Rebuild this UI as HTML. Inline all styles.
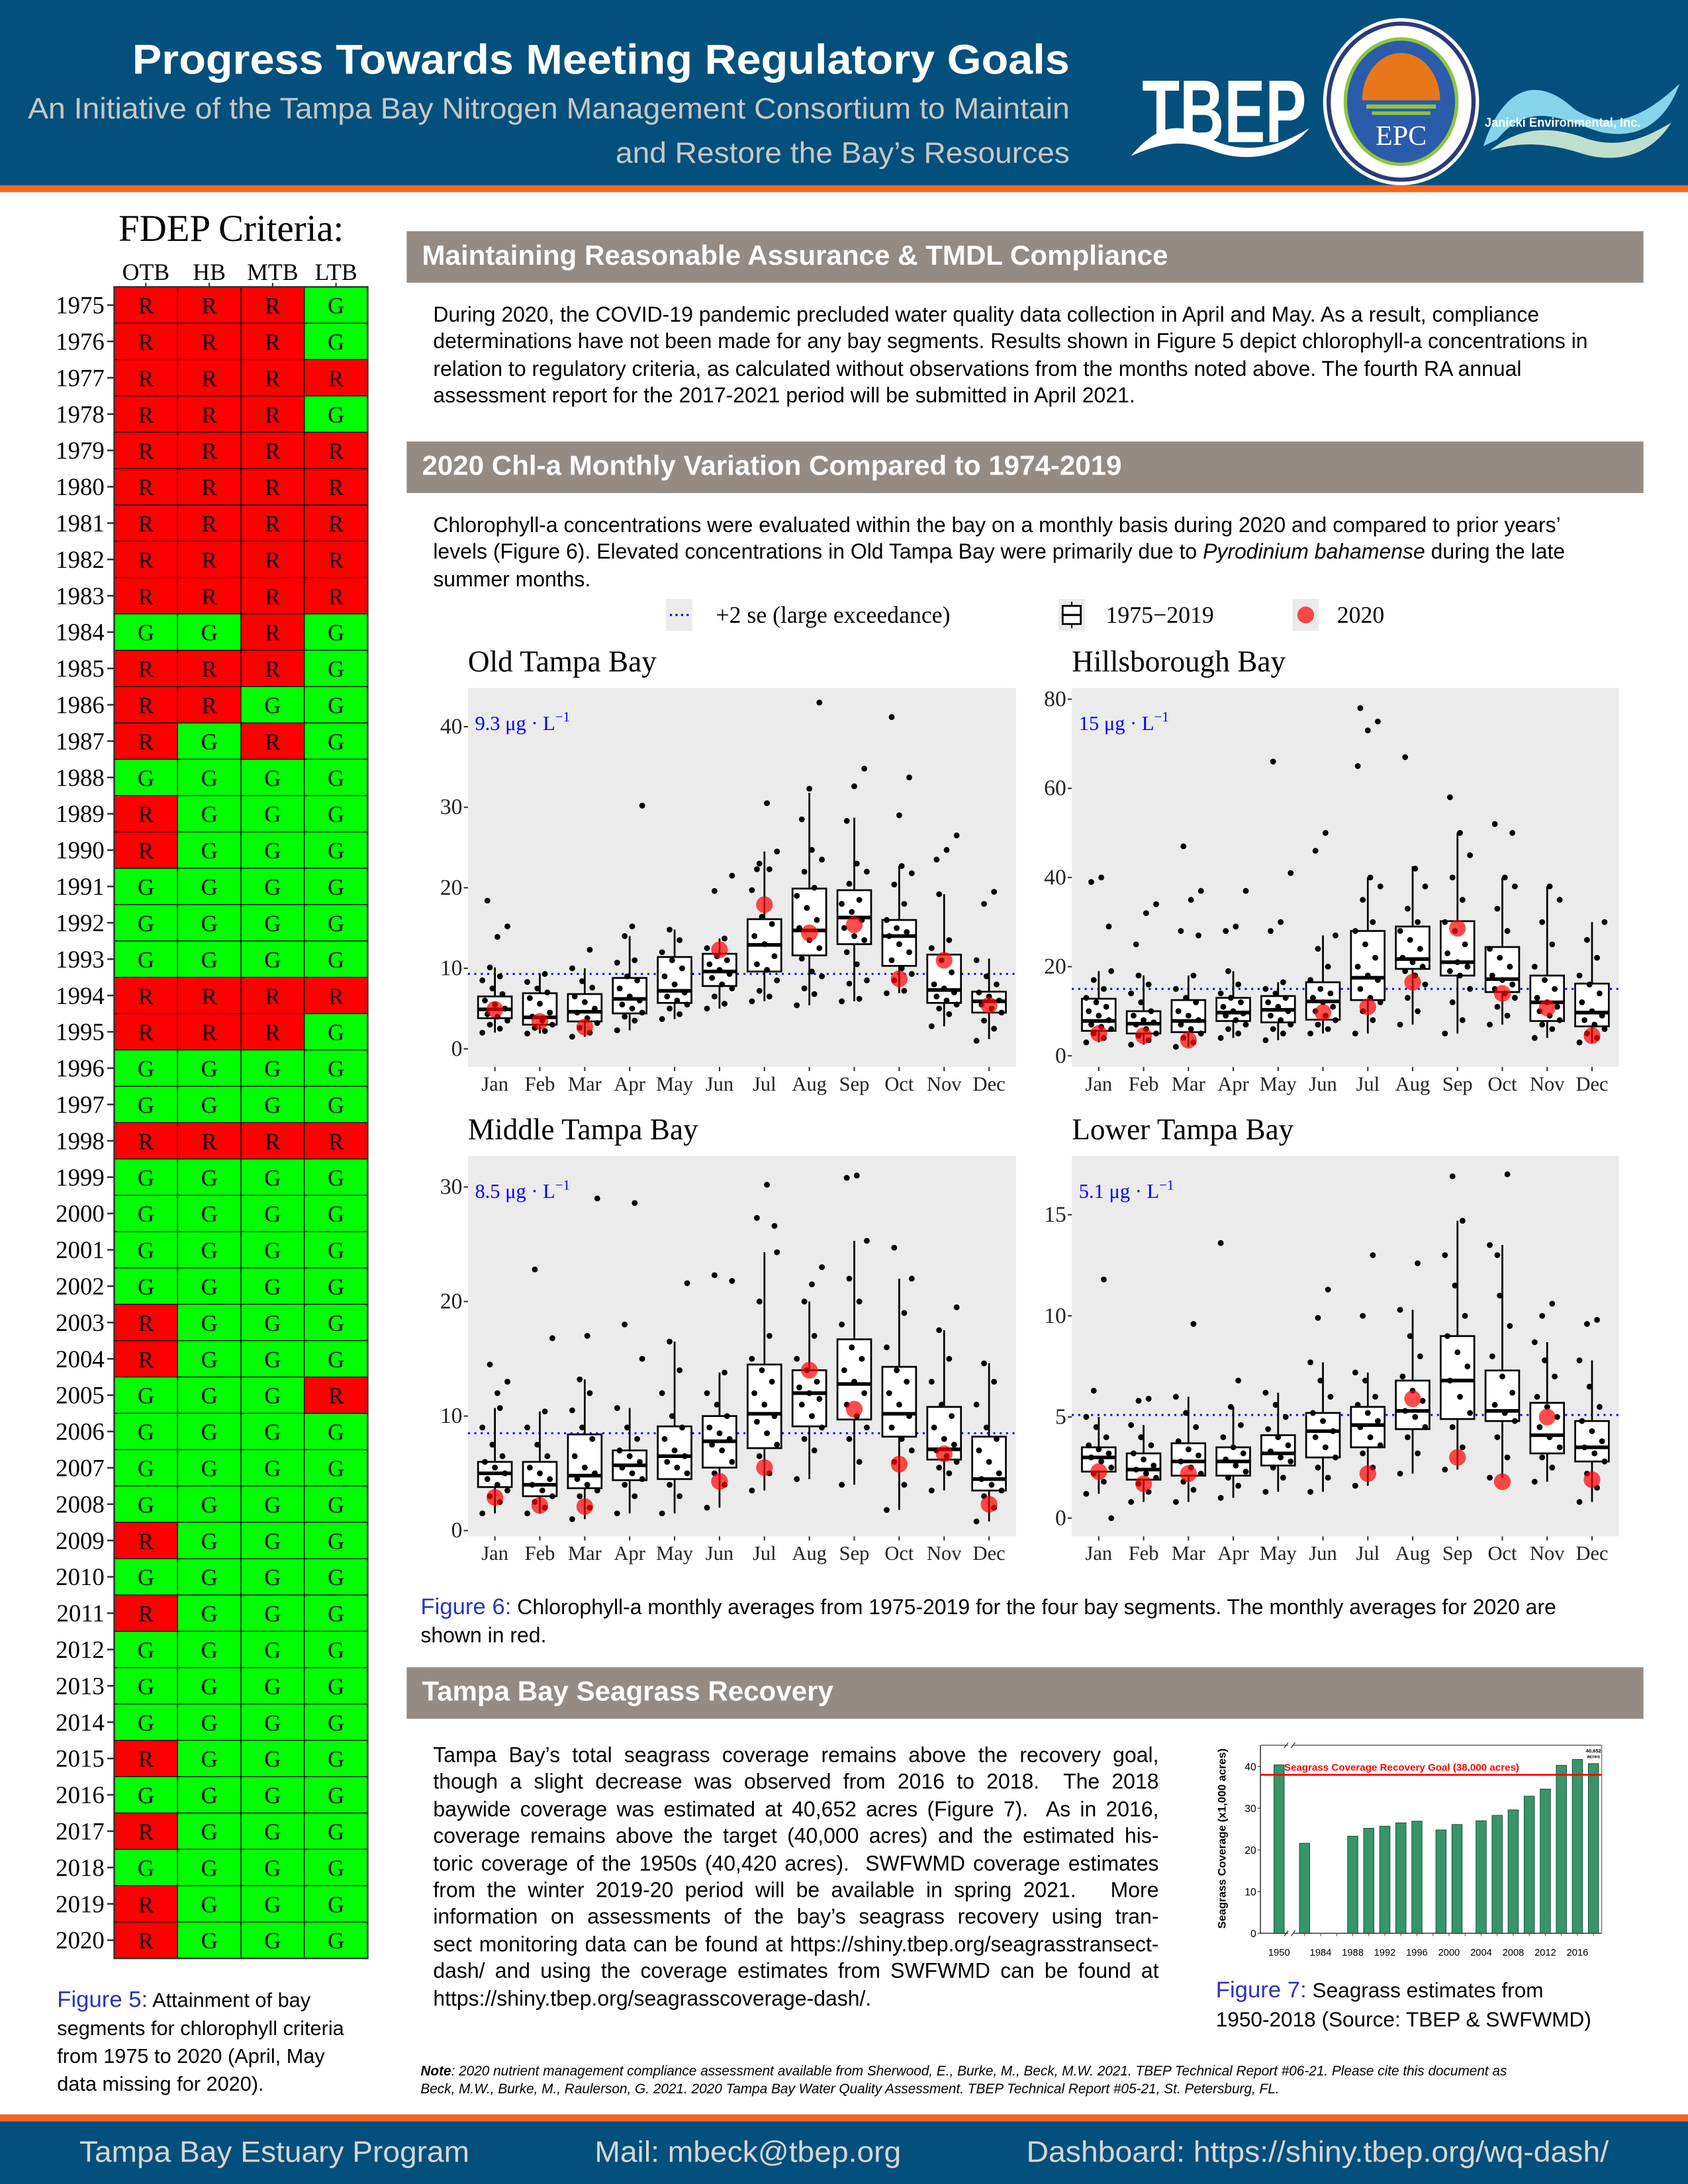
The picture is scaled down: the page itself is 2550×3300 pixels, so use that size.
<!DOCTYPE html>
<html><head><meta charset="utf-8">
<style>
html,body{margin:0;padding:0;width:2550px;height:3300px;overflow:hidden;background:#fff}
#pg{position:absolute;left:0;top:0;width:1212px;height:1568px;transform-origin:0 0;transform:scale(2.10396,2.10459);font-family:"Liberation Sans",sans-serif;color:#000}
.abs{position:absolute;white-space:nowrap}
.p{font-size:15.2px;line-height:19.4px}
.bar{position:absolute;left:292px;width:888px;height:37px;background:#958B85;color:#fff;font-weight:bold;font-size:20px;line-height:37px;padding-left:11px;box-sizing:border-box}
.j{display:block;text-align:justify;text-align-last:justify;width:521px;white-space:nowrap;overflow:visible}
svg text{white-space:pre}
</style></head>
<body>
<div id="pg">
<svg id="main" width="1212" height="1568" viewBox="0 0 1212 1568" style="position:absolute;left:0;top:0">
  <rect x="0" y="0" width="1212" height="134" fill="#03507D"/>
  <rect x="0" y="133" width="1212" height="5" fill="#F26722"/>
  <text x="768" y="53" text-anchor="end" font-family="Liberation Sans" font-weight="bold" font-size="30" fill="#fff" textLength="673" lengthAdjust="spacingAndGlyphs">Progress Towards Meeting Regulatory Goals</text>
  <text x="768" y="85" text-anchor="end" font-family="Liberation Sans" font-size="21" fill="#c8c8c8" textLength="748" lengthAdjust="spacingAndGlyphs">An Initiative of the Tampa Bay Nitrogen Management Consortium to Maintain</text>
  <text x="768" y="117" text-anchor="end" font-family="Liberation Sans" font-size="21" fill="#c8c8c8" textLength="326" lengthAdjust="spacingAndGlyphs">and Restore the Bay’s Resources</text>
  <g>
    <text x="820" y="102" font-family="Liberation Sans" font-weight="bold" font-size="64" fill="#fff" textLength="118" lengthAdjust="spacingAndGlyphs">TBEP</text>
    <path d="M812 112 C835 85 850 90 870 100 C890 110 915 108 940 92 C925 112 895 118 870 108 C850 100 835 102 812 112Z" fill="#fff"/>
  </g>
  <g>
    <ellipse cx="1006" cy="73" rx="56" ry="60" fill="#fff"/>
    <ellipse cx="1006" cy="73" rx="52" ry="56" fill="none" stroke="#2b3a78" stroke-width="3"/>
    <ellipse cx="1006" cy="73" rx="40" ry="45" fill="#2a5caa" stroke="#8cc63f" stroke-width="2.5"/>
    <path d="M978 72 A28 34 0 0 1 1034 72 Z" fill="#e8761b"/>
    <rect x="981" y="75" width="50" height="3" fill="#8cc63f"/>
    <rect x="985" y="80" width="42" height="2.5" fill="#8cc63f"/>
    <text x="1006" y="104" text-anchor="middle" font-family="Liberation Serif" font-size="20" fill="#fff">EPC</text>
  </g>
  <g>
    <path d="M1065 105 C1080 60 1105 55 1130 78 C1155 95 1180 85 1206 60 C1195 90 1175 100 1150 95 C1125 88 1100 70 1075 100Z" fill="#86d3ec"/>
    <path d="M1070 108 C1090 92 1110 90 1135 98 C1160 108 1180 100 1200 88 C1185 112 1160 118 1135 110 C1110 102 1090 102 1070 108Z" fill="#bfe0cf"/>
    <text x="1066" y="91" font-family="Liberation Sans" font-weight="bold" font-size="9" fill="#fff" textLength="112" lengthAdjust="spacingAndGlyphs">Janicki Environmental, Inc.</text>
  </g>
  <rect x="0" y="1518" width="1212" height="5" fill="#F26722"/>
  <rect x="0" y="1523" width="1212" height="45" fill="#03507D"/>
  <text x="57" y="1552" font-family="Liberation Sans" font-size="21" fill="#d6d6d6" textLength="280" lengthAdjust="spacingAndGlyphs">Tampa Bay Estuary Program</text>
  <text x="427" y="1552" font-family="Liberation Sans" font-size="21" fill="#d6d6d6" textLength="220" lengthAdjust="spacingAndGlyphs">Mail: mbeck@tbep.org</text>
  <text x="737" y="1552" font-family="Liberation Sans" font-size="21" fill="#d6d6d6" textLength="418" lengthAdjust="spacingAndGlyphs">Dashboard: https://shiny.tbep.org/wq-dash/</text>
  <text x="166" y="173" text-anchor="middle" font-family="Liberation Serif" font-size="27">FDEP Criteria:</text>
  <g id="table"></g>
  <g id="legend">
    <rect x="478" y="430" width="19" height="23" fill="#ebebeb"/>
    <line x1="481" y1="441.5" x2="495" y2="441.5" stroke="#0000ff" stroke-width="1.5" stroke-dasharray="1.5,2.5"/>
    <text x="514" y="447" font-family="Liberation Serif" font-size="17">+2 se (large exceedance)</text>
    <rect x="760" y="430" width="19" height="23" fill="#ebebeb"/>
    <line x1="769.5" y1="432" x2="769.5" y2="451" stroke="#000" stroke-width="1"/>
    <rect x="763" y="435" width="13" height="13" fill="#fff" stroke="#000" stroke-width="1.3"/>
    <line x1="763" y1="441.5" x2="776" y2="441.5" stroke="#000" stroke-width="1.5"/>
    <text x="794" y="447" font-family="Liberation Serif" font-size="17">1975−2019</text>
    <rect x="928" y="430" width="19" height="23" fill="#ebebeb"/>
    <circle cx="937.5" cy="441.5" r="6" fill="#ff0000" opacity="0.7"/>
    <text x="960" y="447" font-family="Liberation Serif" font-size="17">2020</text>
  </g>
  <g id="panels"></g>
  <g id="seagrass"></g>
</svg>

<div class="bar" style="top:166px">Maintaining Reasonable Assurance &amp; TMDL Compliance</div>
<div class="abs p" style="left:311px;top:217px">During 2020, the COVID-19 pandemic precluded water quality data collection in April and May. As a result, compliance<br>determinations have not been made for any bay segments. Results shown in Figure 5 depict chlorophyll-a concentrations in<br>relation to regulatory criteria, as calculated without observations from the months noted above. The fourth RA annual<br>assessment report for the 2017-2021 period will be submitted in April 2021.</div>

<div class="bar" style="top:317px">2020 Chl-a Monthly Variation Compared to 1974-2019</div>
<div class="abs p" style="left:311px;top:368px">Chlorophyll-a concentrations were evaluated within the bay on a monthly basis during 2020 and compared to prior years’<br>levels (Figure 6). Elevated concentrations in Old Tampa Bay were primarily due to <i>Pyrodinium bahamense</i> during the late<br>summer months.</div>

<div class="abs" style="left:302px;top:1144px;font-size:15.2px;line-height:20px"><span style="color:#2b35b5;font-size:16.5px">Figure 6:</span> Chlorophyll-a monthly averages from 1975-2019 for the four bay segments. The monthly averages for 2020 are<br>shown in red.</div>

<div class="bar" style="top:1197px">Tampa Bay Seagrass Recovery</div>
<div class="abs p" style="left:311px;top:1251px;line-height:19.4px">
<span class="j">Tampa Bay’s total seagrass coverage remains above the recovery goal,</span>
<span class="j">though a slight decrease was observed from 2016 to 2018.&nbsp; The 2018</span>
<span class="j">baywide coverage was estimated at 40,652 acres (Figure 7).&nbsp; As in 2016,</span>
<span class="j">coverage remains above the target (40,000 acres) and the estimated his-</span>
<span class="j">toric coverage of the 1950s (40,420 acres).&nbsp; SWFWMD coverage estimates</span>
<span class="j">from the winter 2019-20 period will be available in spring 2021.&nbsp;&nbsp; More</span>
<span class="j">information on assessments of the bay’s seagrass recovery using tran-</span>
<span class="j">sect monitoring data can be found at https://shiny.tbep.org/seagrasstransect-</span>
<span class="j">dash/ and using the coverage estimates from SWFWMD can be found at</span>
<span style="display:block">https://shiny.tbep.org/seagrasscoverage-dash/.</span>
</div>
<div class="abs" style="left:873px;top:1419px;font-size:15px;line-height:21px"><span style="color:#2b35b5;font-size:16.5px">Figure 7:</span> Seagrass estimates from<br>1950-2018 (Source: TBEP &amp; SWFWMD)</div>
<div class="abs" style="left:41px;top:1426px;font-size:14.6px;line-height:20px"><span style="color:#2b35b5;font-size:16.5px">Figure 5:</span> Attainment of bay<br>segments for chlorophyll criteria<br>from 1975 to 2020 (April, May<br>data missing for 2020).</div>
<div class="abs" style="left:302px;top:1481px;font-size:9.9px;line-height:13px;font-style:italic"><b>Note</b>: 2020 nutrient management compliance assessment available from Sherwood, E., Burke, M., Beck, M.W. 2021. TBEP Technical Report #06-21. Please cite this document as<br>Beck, M.W., Burke, M., Raulerson, G. 2021. 2020 Tampa Bay Water Quality Assessment. TBEP Technical Report #05-21, St. Petersburg, FL.</div>
</div>

<script>
// ---------- FDEP table data ----------
const tblSegments = ['OTB','HB','MTB','LTB'];
const tblYears = [1975,1976,1977,1978,1979,1980,1981,1982,1983,1984,1985,1986,1987,1988,1989,1990,1991,1992,1993,1994,1995,1996,1997,1998,1999,2000,2001,2002,2003,2004,2005,2006,2007,2008,2009,2010,2011,2012,2013,2014,2015,2016,2017,2018,2019,2020];
const tblOutcomes = ['RRRG','RRRG','RRRR','RRRG','RRRR','RRRR','RRRR','RRRR','RRRR','GGRG','RRRG','RRGG','RGRG','GGGG','RGGG','RGGG','GGGG','GGGG','GGGG','RRRR','RRRG','GGGG','GGGG','RRRR','GGGG','GGGG','GGGG','GGGG','RGGG','RGGG','GGGR','GGGG','GGGG','GGGG','RGGG','GGGG','RGGG','GGGG','GGGG','GGGG','RGGG','GGGG','RGGG','GGGG','RGGG','RGGG'];

// ---------- Chl-a monthly data ----------
const months = ['Jan','Feb','Mar','Apr','May','Jun','Jul','Aug','Sep','Oct','Nov','Dec'];
const otbQ1 = [3.8,3.0,3.4,4.4,5.7,7.8,9.6,11.6,13.0,10.3,5.7,4.5];
const otbMed = [4.9,3.9,4.6,6.2,7.2,9.6,12.9,14.7,16.3,14.0,7.3,5.9];
const otbQ3 = [6.5,6.9,6.8,8.8,11.4,11.8,16.1,19.9,19.7,16.0,11.7,7.1];
const otbLo = [2.0,1.9,1.5,2.3,3.7,5.0,5.9,5.4,5.9,6.9,2.8,1.2];
const otbHi = [10.1,9.3,10.0,14.0,14.8,13.7,24.5,31.8,28.7,22.7,19.2,11.2];
const otb2020 = [4.9,3.4,2.7,null,null,12.3,17.9,14.4,15.4,8.7,11.0,5.4];
const otbOut = [[15.2,13.9,18.4],[],[12.3],[30.2,15.2],[],[19.6,21.5],[30.5,22.3],[43,32.3],[34.8,32.6],[41.2,33.7,29],[26.5,24.7,23.5],[19.5,18]];
const otbPts = [[2,2.5,3,3.5,4,4.3,5,5.5,6,6.8,7.5,8.5,9,10.1],[1.9,2.2,2.6,3,3.5,4,4.5,5.6,6.3,7,7.5,8.3,9.3],[1.5,2,2.6,3.2,3.8,4.5,5,5.8,6.5,7.6,8.4,10],[2.3,3.5,4,4.5,5,5.5,6,6.5,7.5,8.5,9,10.7,11,14],[3.7,4.3,5,5.5,6,6.5,7,8,9,10,11,12,13.5,14.8],[5,5.6,6.5,7.5,8,8.8,9.3,9.8,10.5,11,11.5,12.5,13.7],[5.9,6.5,7.2,8.5,9.8,10.5,11.5,13,14,15.5,16.4,19.7,22.3,23,24.5],[5.4,6.8,7.5,9,9.6,11.2,12.5,13.5,15,16,17.5,19,20,22,23.5,24.7,28.5],[5.9,6.2,8.1,8.5,10.5,12,13.5,14,15,16,17,18,18.5,20.5,22,23,28.3],[6.9,7.2,8.5,9.3,10,11,12,13,14,14.5,15,16,18,20.4,21.8,22.7],[2.8,4.3,5,5.5,6,6.5,7,7.5,8,9.5,11,12.5,13.5,19.2],[1,2.5,3.5,4.5,5,5.5,6,6.5,7,8,9,11]];

const hbQ1 = [5.6,5.0,5.3,7.8,7.5,8.1,12.5,19.5,18.0,14.3,7.8,6.6];
const hbMed = [7.8,7.2,7.8,9.7,10.3,12.2,17.5,21.7,21.0,17.2,12.0,9.7];
const hbQ3 = [12.8,10.0,12.5,13.0,13.4,16.5,28.0,29.0,30.2,24.4,18.0,16.2];
const hbLo = [3,2.5,2,4,3.5,5,5,7,5,7,4,3];
const hbHi = [19,18,18,19,16.5,27,40,42.5,50,40,38,30];
const hb2020 = [5,4.5,3.5,null,null,9.7,11,16.5,28.6,14,10.7,4.5];
const hbOut = [[40,39,29],[34,32,25],[47,37,35,28,27],[37,29,28],[66,41,30,28],[50,46],[78,75,73,65],[67],[58],[52,50],[],[]];
const hbPts = [[3,4,5,6,6.5,7,8,9,10,11,12,13,15,17,19],[2.5,3.5,4.5,5,6,7,7.5,8,9,10,12,14,16,18],[2,3,4,5,6,7,8,9,10,12,13,15,18],[4,5,6,7,8,9,9.5,10,11,12,13,14,16,19],[3.5,5,6,7,8,9,10,11,12,13,14,15,16.5],[5,6,7,8,9,10,11,12,13,14,15,17,20,24,27],[5,8,10,12,13,15,17,18,20,22,25,28,30,35,38,40],[7,10,13,16,18,19,20,21,22,24,26,28,30,33,38,42],[5,8,12,15,18,19,20,21,23,25,28,30,35,40,45,50],[7,9,11,13,14,15,16,17,18,20,22,24,28,33,38,40],[4,6,7,8,9,10,11,12,13,15,17,20,25,30,35,38],[3,4,5,6,7,8,9,10,12,14,16,18,22,26,30]];

const mtbQ1 = [3.8,3.0,3.7,4.4,4.5,5.5,7.2,9.1,9.7,8.2,6.2,3.5];
const mtbMed = [5.0,4.0,4.8,5.7,6.5,7.8,10.2,12.0,12.8,10.2,7.1,4.5];
const mtbQ3 = [6.0,6.0,8.4,7.0,9.1,10.0,14.5,14.0,16.7,14.3,10.8,8.2];
const mtbLo = [1.5,1.5,1.0,1.5,1.5,2.0,3.5,4.5,4.0,1.8,3.5,0.8];
const mtbHi = [10.7,10.4,13.2,10.7,16.5,13.8,24.3,20.0,25.3,22.0,17.5,14.6];
const mtb2020 = [2.9,2.2,2.1,null,null,4.3,5.5,14.0,10.6,5.8,6.7,2.3];
const mtbOut = [[14.5,13,12],[22.8,16.8],[29,17],[28.6,18,15],[21.6],[22.3,21.8],[30.2,27.3,26.6],[23,21.5],[31,30.8],[24.7,22],[19.5],[]];
const mtbPts = [[1.5,2.5,3,3.5,4,4.5,5,5.5,6,6.5,7.5,9,10.7],[1.5,2,2.5,3,3.5,4,4.5,5,5.5,6.5,7.5,9,10.4],[1,2,3,3.5,4,4.5,5,5.5,6.5,8,9,10.5,12,13.2],[1.5,3,4,4.5,5,5.5,6,6.5,7,8,9,10.7],[1.5,3,4,5,5.5,6,6.5,7,8,9,10,12,14,16.5],[2,4,5,6,7,7.5,8,8.5,9,10,11,12,13.8],[3.5,5,6.5,7.5,8.5,9.5,10,11,12,13,14,15,17,20,24.3],[4.5,7,8,9,10,11,11.5,12,12.5,13,14,15,17,20],[4,6,8,9,10,11,12,13,14,15,16,18,20,22,25.3],[1.8,4,6,7,8,9,10,11,12,13,14,16,19],[3.5,5,5.5,6,6.5,7,7.5,8,9,10,11,13,15,17.5],[0.8,2,3,3.5,4,4.5,5,6,7,8,9,11,13,14.6]];

const ltbQ1 = [2.3,1.9,2.1,2.1,2.6,3.0,3.5,4.4,4.9,4.8,3.2,2.8];
const ltbMed = [3.0,2.4,2.8,2.8,3.2,4.3,4.6,5.3,6.8,5.3,4.1,3.5];
const ltbQ3 = [3.5,3.2,3.7,3.5,4.1,5.2,5.5,6.8,9.0,7.3,5.7,4.8];
const ltbLo = [1.2,0.8,0.8,1.0,1.3,1.3,1.6,2.2,2.4,2.0,1.8,0.8];
const ltbHi = [5.0,4.6,6.0,5.5,6.2,7.7,7.2,10.3,14.7,13.5,8.7,7.8];
const ltb2020 = [2.3,1.7,2.2,null,null,null,2.2,5.9,3.0,1.8,5.0,1.9];
const ltbOut = [[11.8,6.3,0],[5.9,5.8],[9.6],[13.6,6.8],[],[11.3,9.9],[13,10],[12.6],[16.9],[17,13],[10.6,10],[9.8,9.6]];
const ltbPts = [[1.2,1.8,2.2,2.5,2.8,3,3.2,3.4,3.6,4,4.5,5],[0.8,1.3,1.7,2,2.2,2.4,2.6,2.9,3.2,3.6,4,4.6],[0.8,1.4,1.8,2.2,2.5,2.8,3.1,3.4,3.8,4.5,5.2,6],[1,1.6,2,2.3,2.6,2.9,3.2,3.5,4,4.6,5.5],[1.3,2,2.5,2.8,3,3.3,3.6,4,4.4,5,5.6,6.2],[1.3,2,2.5,3,3.5,4,4.3,4.8,5.2,6,6.8,7.7],[1.6,2.5,3.2,3.6,4,4.5,4.8,5.2,5.6,6,6.8,7.2],[2.2,3.2,4,4.5,5,5.3,5.8,6.3,7,8,9,10.3],[2.4,3.5,4.5,5.2,6,6.8,7.5,8.2,9,10,11.5,13,14.7],[2,3,4,4.8,5.2,5.6,6.2,7,8,9.5,11,13.5],[1.8,2.5,3,3.5,4,4.5,5,5.5,6,7,7.8,8.7],[0.8,1.5,2.2,2.8,3.2,3.5,3.8,4.3,4.8,5.5,6.5,7.8]];

const panelTitles = ['Old Tampa Bay','Hillsborough Bay','Middle Tampa Bay','Lower Tampa Bay'];
const thresholds = [9.3,15,8.5,5.1];
const thresholdLabels = ['9.3','15','8.5','5.1'];
const otbTicks = [0,10,20,30,40];
const hbTicks = [0,20,40,60,80];
const mtbTicks = [0,10,20,30];
const ltbTicks = [0,5,10,15];

// ---------- Seagrass data ----------
const sgYears = [1950,1982,1988,1990,1992,1994,1996,1999,2001,2004,2006,2008,2010,2012,2014,2016,2018];
const sgAcres = [40.4,21.6,23.3,25.2,25.7,26.5,26.9,24.8,26.1,27.0,28.3,29.6,32.9,34.6,40.3,41.7,40.7];
const sgTickLabels = [1950,1984,1988,1992,1996,2000,2004,2008,2012,2016];
const sgYTicks = [0,10,20,30,40];
const sgGoal = 38;

const NS = 'http://www.w3.org/2000/svg';
function mk(tag, attrs, parent){ const e=document.createElementNS(NS,tag); for(const k in attrs) e.setAttribute(k,attrs[k]); parent.appendChild(e); return e; }

// ---------- draw table ----------
(function(){
  const g = document.getElementById('table');
  const x0=82, colW=45.5, y0=206, rowH=1200/46;
  tblSegments.forEach((s,c)=>{
    const t = mk('text',{x:x0+colW*(c+0.5),y:201,'text-anchor':'middle','font-family':'Liberation Serif','font-size':17},g);
    t.textContent=s;
    
    
    mk('line',{x1:x0+colW*(c+0.5),x2:x0+colW*(c+0.5),y1:203,y2:206,stroke:'#333','stroke-width':1},g);
  });
  tblYears.forEach((yr,r)=>{
    const cy = y0+rowH*(r+0.5);
    const yl = mk('text',{x:75,y:cy+6,'text-anchor':'end','font-family':'Liberation Serif','font-size':17.5},g);
    yl.textContent=yr;
    
    
    mk('line',{x1:77,x2:82,y1:cy,y2:cy,stroke:'#333','stroke-width':1.2},g);
    tblOutcomes[r].split('').forEach((o,c)=>{
      const rc = mk('rect',{x:x0+colW*c,y:y0+rowH*r,width:colW,height:rowH,fill:o==='R'?'#ff0000':'#00ff00',stroke:'#000','stroke-width':0.6},g);
      
      
      const tx = mk('text',{x:x0+colW*(c+0.5),y:cy+6,'text-anchor':'middle','font-family':'Liberation Serif','font-size':16.5},g);
      tx.textContent=o;
      
      
    });
  });
  mk('rect',{x:x0,y:y0,width:colW*4,height:1200,fill:'none',stroke:'#333','stroke-width':1.2},g);
})();

// ---------- draw panels ----------
const layouts = [
  {x0:336,x1:729.5,y0:494,y1:766,d0:-2.25,d1:44.8},
  {x0:769.6,x1:1162.4,y0:494,y1:766,d0:-2.5,d1:82.5},
  {x0:336,x1:729.5,y0:830,y1:1103,d0:-0.5,d1:32.7},
  {x0:769.6,x1:1162.4,y0:830,y1:1103,d0:-0.9,d1:17.9}
];
const panelData = [
  [otbQ1,otbMed,otbQ3,otbLo,otbHi,otb2020,otbOut,otbPts,otbTicks],
  [hbQ1,hbMed,hbQ3,hbLo,hbHi,hb2020,hbOut,hbPts,hbTicks],
  [mtbQ1,mtbMed,mtbQ3,mtbLo,mtbHi,mtb2020,mtbOut,mtbPts,mtbTicks],
  [ltbQ1,ltbMed,ltbQ3,ltbLo,ltbHi,ltb2020,ltbOut,ltbPts,ltbTicks]
];
const panelsG = document.getElementById('panels');
panelData.forEach((pd,pi)=>{
  const L = layouts[pi];
  const [q1,med,q3,lo,hi,y20,out,pts,ticks] = pd;
  const g = mk('g',{},panelsG);
  
  
  const band = (L.x1-L.x0)/12.2;
  const xs = i => L.x0 + band*(i+0.6);
  const ys = v => L.y1 - (v-L.d0)/(L.d1-L.d0)*(L.y1-L.y0);
  const bg = mk('rect',{x:L.x0,y:L.y0,width:L.x1-L.x0,height:L.y1-L.y0,fill:'#ebebeb'},g);
  
  
  const tt = mk('text',{x:L.x0,y:L.y0-12,'font-family':'Liberation Serif','font-size':21.5},g);
  tt.textContent = panelTitles[pi];
  
  
  ticks.forEach(t=>{
    const y=ys(t);
    mk('line',{x1:L.x0-3,x2:L.x0,y1:y,y2:y,stroke:'#333','stroke-width':1},g);
    const lb = mk('text',{x:L.x0-4,y:y+5,'text-anchor':'end','font-family':'Liberation Serif','font-size':16,fill:'#222'},g);
    lb.textContent=t;
    
    
  });
  months.forEach((m,i)=>{
    const x=xs(i);
    mk('line',{x1:x,x2:x,y1:L.y1,y2:L.y1+3,stroke:'#333','stroke-width':1},g);
    const lb = mk('text',{x:x,y:L.y1+17,'text-anchor':'middle','font-family':'Liberation Serif','font-size':14.5,fill:'#222'},g);
    lb.textContent=m;
    
    
  });
  const th = mk('line',{x1:L.x0,x2:L.x1,y1:ys(thresholds[pi]),y2:ys(thresholds[pi]),stroke:'#0000ff','stroke-width':1.4,'stroke-dasharray':'1.4,3.2'},g);
  
  
  const tl = mk('text',{x:L.x0+5,y:L.y0+30,'font-family':'Liberation Serif','font-size':14.5,fill:'#0000ff'},g);
  tl.innerHTML = thresholdLabels[pi]+' μg · L<tspan dy="-6" font-size="10">−1</tspan>';
  
  
  const bw = band*0.75;
  months.forEach((m,i)=>{
    const x=xs(i);
    const wl = mk('line',{x1:x,x2:x,y1:ys(lo[i]),y2:ys(hi[i]),stroke:'#000','stroke-width':1.3},g);
    
    
    const bx = mk('rect',{x:x-bw/2,y:ys(q3[i]),width:bw,height:ys(q1[i])-ys(q3[i]),fill:'#fff',stroke:'#000','stroke-width':1.3},g);
    
    
    const md = mk('line',{x1:x-bw/2,x2:x+bw/2,y1:ys(med[i]),y2:ys(med[i]),stroke:'#000','stroke-width':2.6},g);
    
    
  });
  months.forEach((m,i)=>{
    const x=xs(i);
    pts[i].concat(out[i]).forEach((v,j)=>{
      const off = (((j*7)%11)-5)/5*9;
      const c = mk('circle',{cx:x+off,cy:ys(v),r:2.1,fill:'#000'},g);
      
      
    });
  });
  months.forEach((m,i)=>{
    if(y20[i]===null) return;
    const c = mk('circle',{cx:xs(i),cy:ys(y20[i]),r:6,fill:'#ff0000',opacity:0.7},g);
    
    
  });
});

// ---------- seagrass chart ----------
(function(){
  const g = document.getElementById('seagrass');
  const X0=905, X1=1150, Y0=1253, Y1=1388, D1=45.1;
  const xs = yr => yr===1950 ? 918.4 : 936.7 + (yr-1982)*5.762;
  const ys = v => Y1 - v/D1*(Y1-Y0);
  mk('line',{x1:X0,x2:X0,y1:Y0,y2:Y1,stroke:'#444','stroke-width':0.8},g);
  mk('line',{x1:X0,x2:X1,y1:Y0,y2:Y0,stroke:'#888','stroke-width':1},g);
  mk('line',{x1:X1,x2:X1,y1:Y0,y2:Y1,stroke:'#888','stroke-width':0.8},g);
  mk('line',{x1:X0,x2:X1,y1:Y1,y2:Y1,stroke:'#444','stroke-width':0.8},g);
  mk('rect',{x:925,y:Y0-2,width:4,height:4,fill:'#fff'},g);
  mk('rect',{x:925,y:Y1-2,width:4,height:4,fill:'#fff'},g);
  mk('path',{d:'M922 1255 L925 1251 M927 1255 L930 1251 M922 1390 L925 1386 M927 1390 L930 1386',stroke:'#333','stroke-width':0.6},g);
  sgYTicks.forEach(t=>{
    mk('line',{x1:X0-2,x2:X0,y1:ys(t),y2:ys(t),stroke:'#444','stroke-width':0.6},g);
    const lb=mk('text',{x:X0-3,y:ys(t)+2.8,'text-anchor':'end','font-family':'Liberation Sans','font-size':7.5},g);
    lb.textContent=t;
    
    
  });
  for(let yr=1982; yr<=2018; yr+=2){
    mk('line',{x1:xs(yr),x2:xs(yr),y1:Y1,y2:Y1+2,stroke:'#444','stroke-width':0.5},g);
  }
  sgTickLabels.forEach(yr=>{
    const lb=mk('text',{x:xs(yr),y:Y1+16,'text-anchor':'middle','font-family':'Liberation Sans','font-size':7},g);
    lb.textContent=yr;
    
    
  });
  sgYears.forEach((yr,i)=>{
    const b=mk('rect',{x:xs(yr)-3.7,y:ys(sgAcres[i]),width:7.4,height:Y1-ys(sgAcres[i]),fill:'#36956a',stroke:'#1d3b2c','stroke-width':0.4},g);
    
    
  });
  const gl=mk('line',{x1:X0,x2:X1,y1:ys(sgGoal),y2:ys(sgGoal),stroke:'#ff0000','stroke-width':1.3},g);
  
  
  const gt=mk('text',{x:922,y:ys(sgGoal)-3,'font-family':'Liberation Sans','font-weight':'bold','font-size':7.2,fill:'#ff0000'},g);
  gt.textContent='Seagrass Coverage Recovery Goal (38,000 acres)';
  
  
  const at=mk('text',{x:xs(2018),y:ys(sgAcres[sgAcres.length-1])-8,'text-anchor':'middle','font-family':'Liberation Sans','font-weight':'bold','font-size':3.6},g);
  at.innerHTML='<tspan x="'+xs(2018)+'">40,652</tspan><tspan x="'+xs(2018)+'" dy="4">acres</tspan>';
  
  
  const yt=mk('text',{x:0,y:0,'text-anchor':'middle','font-family':'Liberation Sans','font-weight':'bold','font-size':8,transform:'translate(880,1320) rotate(-90)'},g);
  yt.textContent='Seagrass Coverage (x1,000 acres)';
  
  
})();
</script>
</body></html>
